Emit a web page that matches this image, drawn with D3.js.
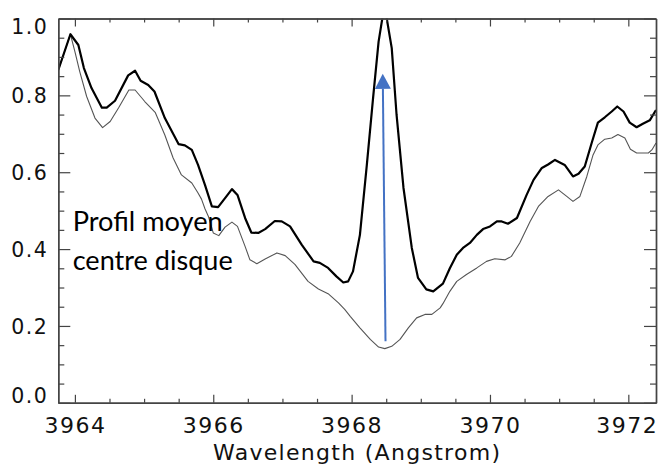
<!DOCTYPE html>
<html><head><meta charset="utf-8">
<script src="https://cdn.jsdelivr.net/npm/d3@7"></script>
<style>body{margin:0;background:#fff} svg{display:block}</style>
</head><body><svg id="c" width="662" height="467"></svg>
<script>
// ---- data (wavelength in Angstrom, normalised intensity) ----
const thickWl = [3963.76, 3963.935, 3964.05, 3964.13, 3964.24, 3964.39, 3964.46, 3964.58, 3964.77, 3964.87, 3964.95, 3965.06, 3965.15, 3965.30, 3965.50, 3965.59, 3965.69, 3965.78, 3965.88, 3965.98, 3966.07, 3966.19, 3966.27, 3966.35, 3966.46, 3966.55, 3966.65, 3966.75, 3966.89, 3966.99, 3967.11, 3967.28, 3967.45, 3967.54, 3967.66, 3967.78, 3967.88, 3967.95, 3968.02, 3968.12, 3968.22, 3968.31, 3968.39, 3968.475, 3968.58, 3968.65, 3968.75, 3968.87, 3968.96, 3969.08, 3969.18, 3969.32, 3969.42, 3969.52, 3969.61, 3969.71, 3969.81, 3969.90, 3970.00, 3970.10, 3970.17, 3970.26, 3970.39, 3970.53, 3970.63, 3970.75, 3970.84, 3970.94, 3971.08, 3971.20, 3971.28, 3971.37, 3971.47, 3971.56, 3971.66, 3971.76, 3971.84, 3971.93, 3972.02, 3972.12, 3972.21, 3972.31, 3972.40];
const thickFlux = [0.866, 0.959, 0.931, 0.871, 0.819, 0.768, 0.768, 0.786, 0.852, 0.864, 0.838, 0.827, 0.810, 0.741, 0.673, 0.670, 0.658, 0.619, 0.567, 0.511, 0.509, 0.537, 0.556, 0.541, 0.481, 0.443, 0.442, 0.452, 0.473, 0.472, 0.459, 0.411, 0.368, 0.364, 0.351, 0.329, 0.313, 0.316, 0.342, 0.437, 0.619, 0.793, 0.940, 1.035, 0.923, 0.749, 0.559, 0.403, 0.325, 0.295, 0.290, 0.310, 0.350, 0.385, 0.403, 0.416, 0.437, 0.452, 0.459, 0.472, 0.472, 0.466, 0.481, 0.541, 0.580, 0.611, 0.620, 0.632, 0.619, 0.589, 0.596, 0.615, 0.676, 0.729, 0.743, 0.758, 0.771, 0.758, 0.729, 0.717, 0.726, 0.735, 0.762];
const thinWl = [3963.76, 3963.935, 3964.00, 3964.07, 3964.17, 3964.29, 3964.40, 3964.51, 3964.63, 3964.78, 3964.87, 3965.01, 3965.16, 3965.30, 3965.42, 3965.54, 3965.69, 3965.78, 3965.83, 3965.88, 3965.93, 3966.00, 3966.08, 3966.17, 3966.27, 3966.35, 3966.46, 3966.53, 3966.63, 3966.75, 3966.92, 3967.04, 3967.18, 3967.37, 3967.52, 3967.66, 3967.81, 3967.90, 3967.98, 3968.12, 3968.27, 3968.39, 3968.48, 3968.58, 3968.70, 3968.82, 3968.94, 3969.06, 3969.16, 3969.28, 3969.32, 3969.42, 3969.52, 3969.66, 3969.81, 3969.95, 3970.07, 3970.22, 3970.31, 3970.43, 3970.58, 3970.70, 3970.84, 3970.99, 3971.11, 3971.20, 3971.30, 3971.40, 3971.49, 3971.56, 3971.66, 3971.76, 3971.85, 3971.95, 3972.03, 3972.12, 3972.29, 3972.34, 3972.40];
const thinFlux = [0.866, 0.959, 0.914, 0.862, 0.797, 0.741, 0.716, 0.732, 0.767, 0.814, 0.814, 0.784, 0.756, 0.697, 0.637, 0.593, 0.572, 0.546, 0.530, 0.505, 0.485, 0.442, 0.435, 0.457, 0.470, 0.459, 0.407, 0.372, 0.362, 0.374, 0.390, 0.383, 0.360, 0.316, 0.296, 0.284, 0.260, 0.243, 0.225, 0.195, 0.165, 0.145, 0.141, 0.147, 0.165, 0.195, 0.221, 0.230, 0.230, 0.247, 0.258, 0.290, 0.316, 0.334, 0.351, 0.368, 0.375, 0.372, 0.381, 0.416, 0.472, 0.511, 0.537, 0.554, 0.537, 0.524, 0.537, 0.589, 0.645, 0.671, 0.686, 0.689, 0.698, 0.689, 0.660, 0.650, 0.650, 0.658, 0.676];

const xMajorTicks = [3964, 3966, 3968, 3970, 3972];
const xMinorTicks = [3964.5, 3965, 3965.5, 3966.5, 3967, 3967.5, 3968.5, 3969, 3969.5, 3970.5, 3971, 3971.5];
const yMajorTicks = [0.0, 0.2, 0.4, 0.6, 0.8, 1.0];
const yMinorTicks = [0.05, 0.1, 0.15, 0.25, 0.3, 0.35, 0.45, 0.5, 0.55, 0.65, 0.7, 0.75, 0.85, 0.9, 0.95];
const xTitle = "Wavelength (Angstrom)";
const noteLines = ["Profil moyen", "centre disque"];
const arrowFrom = [3968.49, 0.16];
const arrowTo = [3968.45, 0.856];

// ---- layout ----
const L = 58.3, R = 656, T = 18.5, B = 402.8;
const x = d3.scaleLinear().domain([3963.76, 3972.40]).range([L, R]);
const y = d3.scaleLinear().domain([0, 1]).range([B, T]);
const svg = d3.select('#c');

svg.append('defs').append('clipPath').attr('id', 'clip')
  .append('rect').attr('x', L).attr('y', T).attr('width', R - L).attr('height', B - T);

const line = d3.line().x(d => x(d[0])).y(d => y(d[1]));
const plot = svg.append('g').attr('clip-path', 'url(#clip)');
plot.append('path').datum(d3.zip(thinWl, thinFlux)).attr('d', line)
  .attr('fill', 'none').attr('stroke', '#555').attr('stroke-width', 1.1).attr('stroke-linejoin', 'round');
plot.append('path').datum(d3.zip(thickWl, thickFlux)).attr('d', line)
  .attr('fill', 'none').attr('stroke', '#000').attr('stroke-width', 2.2).attr('stroke-linejoin', 'round');

// ---- axes ----
const axisColor = '#444';
function styleAxis(g) {
  g.selectAll('path.domain').attr('stroke', axisColor).attr('stroke-width', 1.4);
  g.selectAll('.tick line').attr('stroke', axisColor).attr('stroke-width', 1.2);
}
function addAxis(gen, tr, ticks, size) {
  const g = svg.append('g').attr('transform', tr)
    .call(gen.tickValues(ticks).tickSizeInner(size).tickSizeOuter(0).tickFormat(''));
  styleAxis(g);
  return g;
}
// minor ticks
addAxis(d3.axisBottom(x), `translate(0,${B})`, xMinorTicks, -4);
addAxis(d3.axisTop(x), `translate(0,${T})`, xMinorTicks, -4);
addAxis(d3.axisLeft(y), `translate(${L},0)`, yMinorTicks, -6);
addAxis(d3.axisRight(y), `translate(${R},0)`, yMinorTicks, -6);
// major ticks
addAxis(d3.axisTop(x), `translate(0,${T})`, xMajorTicks, -8);
addAxis(d3.axisRight(y), `translate(${R},0)`, yMajorTicks, -12);
const gx = svg.append('g').attr('transform', `translate(0,${B})`)
  .call(d3.axisBottom(x).tickValues(xMajorTicks).tickSizeInner(-8).tickSizeOuter(0).tickFormat(d3.format('d')));
styleAxis(gx);
gx.attr('font-family', 'DejaVu Sans, sans-serif').attr('font-size', 22);
gx.selectAll('text').attr('y', 30.5).attr('dy', 0).attr('fill', '#111').attr('letter-spacing', 1.5)
  .attr('dx', d => d === 3972 ? -1.5 : 0);

const gy = svg.append('g').attr('transform', `translate(${L},0)`)
  .call(d3.axisLeft(y).tickValues(yMajorTicks).tickSizeInner(-12).tickSizeOuter(0).tickPadding(10).tickFormat(d3.format('.1f')));
styleAxis(gy);
gy.attr('font-family', 'DejaVu Sans, sans-serif').attr('font-size', 20.5);
gy.selectAll('text').attr('dy', 0).attr('fill', '#111').attr('letter-spacing', 1.5)
  .attr('y', d => d === 1 ? 14.8 : (d === 0 ? -0.2 : 7.5));

svg.append('text').attr('x', (213 + 500) / 2).attr('y', 460)
  .attr('text-anchor', 'middle').attr('font-family', 'DejaVu Sans, sans-serif').attr('font-size', 22)
  .attr('fill', '#111').attr('textLength', 287).attr('lengthAdjust', 'spacing').text(xTitle);

// ---- annotation ----
const noteWidths = [150, 160];
svg.append('g').selectAll('text').data(noteLines).join('text')
  .attr('x', 72.7).attr('y', (d, i) => 231 + i * 39)
  .attr('font-family', 'Lato, "Open Sans", sans-serif').attr('font-size', 26).attr('fill', '#000')
  .attr('textLength', (d, i) => noteWidths[i]).attr('lengthAdjust', 'spacingAndGlyphs')
  .text(d => d);

// ---- arrow ----
const p1 = [x(arrowFrom[0]), y(arrowFrom[1])];
const p2 = [x(arrowTo[0]), y(arrowTo[1])];
const dx = p2[0] - p1[0], dy = p2[1] - p1[1], len = Math.hypot(dx, dy);
const ux = dx / len, uy = dy / len, headL = 15, headW = 8;
const bc = [p2[0] - ux * headL, p2[1] - uy * headL];
const blue = '#4472C4';
svg.append('line').attr('x1', p1[0]).attr('y1', p1[1]).attr('x2', bc[0]).attr('y2', bc[1])
  .attr('stroke', blue).attr('stroke-width', 2);
svg.append('polygon').attr('fill', blue)
  .attr('points', [p2, [bc[0] - uy * headW, bc[1] + ux * headW], [bc[0] + uy * headW, bc[1] - ux * headW]].map(p => p.join(',')).join(' '));
</script></body></html>
